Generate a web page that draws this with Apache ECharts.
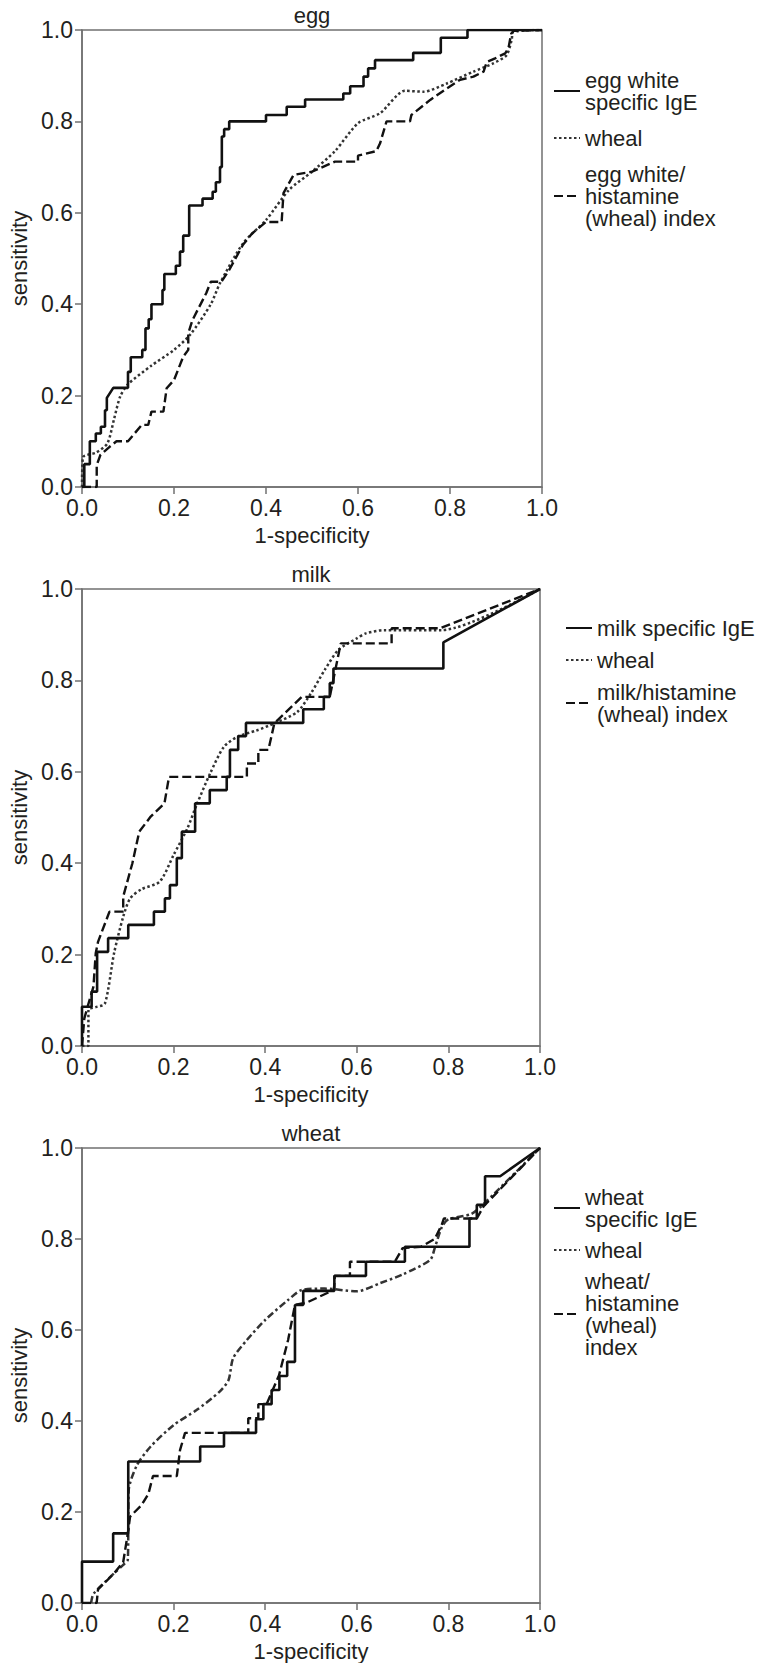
<!DOCTYPE html>
<html>
<head>
<meta charset="utf-8">
<script src="https://cdn.jsdelivr.net/npm/echarts@6/dist/echarts.min.js"></script>
<style>
  html, body { margin: 0; padding: 0; background: #fff; }
  #main { width: 761px; height: 1663px; }
</style>
</head>
<body>
<div id="main"></div>
<script>
// ROC curves: [1-specificity, sensitivity]
var eggIgE = [[0,0],[0.005,0],[0.005,0.05],[0.017,0.05],[0.017,0.10],[0.03,0.10],[0.03,0.117],[0.041,0.117],[0.041,0.132],[0.05,0.132],[0.05,0.168],[0.054,0.168],[0.054,0.195],[0.068,0.217],[0.10,0.217],[0.10,0.252],[0.106,0.252],[0.106,0.284],[0.131,0.284],[0.131,0.30],[0.138,0.30],[0.138,0.347],[0.145,0.347],[0.145,0.367],[0.151,0.367],[0.151,0.40],[0.175,0.40],[0.175,0.431],[0.179,0.431],[0.179,0.466],[0.204,0.466],[0.204,0.484],[0.213,0.484],[0.213,0.515],[0.22,0.515],[0.22,0.55],[0.233,0.55],[0.233,0.616],[0.262,0.616],[0.262,0.631],[0.284,0.631],[0.284,0.646],[0.291,0.646],[0.291,0.667],[0.30,0.667],[0.30,0.70],[0.304,0.70],[0.304,0.767],[0.309,0.767],[0.309,0.783],[0.32,0.783],[0.32,0.80],[0.40,0.80],[0.40,0.814],[0.445,0.814],[0.445,0.832],[0.485,0.832],[0.485,0.848],[0.568,0.848],[0.568,0.861],[0.583,0.861],[0.583,0.877],[0.612,0.877],[0.612,0.898],[0.622,0.898],[0.622,0.916],[0.637,0.916],[0.637,0.934],[0.72,0.934],[0.72,0.95],[0.78,0.95],[0.78,0.983],[0.838,0.983],[0.838,1.0],[1,1]];
var eggWheal = [[0,0],[0.002,0.065],[0.03,0.075],[0.055,0.095],[0.07,0.15],[0.083,0.198],[0.10,0.225],[0.15,0.265],[0.2,0.30],[0.235,0.333],[0.28,0.40],[0.30,0.446],[0.35,0.533],[0.40,0.584],[0.45,0.65],[0.50,0.69],[0.55,0.735],[0.60,0.796],[0.648,0.818],[0.702,0.867],[0.742,0.865],[0.793,0.883],[0.851,0.909],[0.894,0.927],[0.923,0.945],[0.934,0.978],[0.938,0.996],[1,1]];
var eggIndex = [[0,0],[0.032,0],[0.032,0.048],[0.04,0.07],[0.06,0.088],[0.075,0.10],[0.10,0.10],[0.13,0.136],[0.144,0.136],[0.151,0.165],[0.177,0.165],[0.184,0.216],[0.20,0.234],[0.22,0.285],[0.231,0.30],[0.231,0.336],[0.24,0.365],[0.27,0.424],[0.28,0.449],[0.303,0.449],[0.32,0.475],[0.35,0.53],[0.37,0.555],[0.40,0.58],[0.434,0.58],[0.438,0.643],[0.46,0.683],[0.50,0.69],[0.55,0.712],[0.60,0.712],[0.60,0.725],[0.64,0.735],[0.648,0.752],[0.662,0.80],[0.713,0.80],[0.716,0.814],[0.757,0.847],[0.793,0.872],[0.822,0.891],[0.851,0.898],[0.873,0.909],[0.88,0.93],[0.898,0.938],[0.92,0.949],[0.927,0.96],[0.933,0.992],[0.938,0.998],[1,1]];

var milkIgE = [[0,0],[0,0.086],[0.021,0.086],[0.021,0.119],[0.033,0.119],[0.033,0.206],[0.057,0.206],[0.057,0.236],[0.101,0.236],[0.101,0.265],[0.157,0.265],[0.157,0.294],[0.181,0.294],[0.181,0.323],[0.192,0.323],[0.192,0.352],[0.207,0.352],[0.207,0.411],[0.218,0.411],[0.218,0.469],[0.247,0.469],[0.247,0.531],[0.279,0.531],[0.279,0.56],[0.316,0.56],[0.316,0.589],[0.323,0.589],[0.323,0.648],[0.341,0.648],[0.341,0.678],[0.358,0.678],[0.358,0.707],[0.483,0.707],[0.483,0.737],[0.528,0.737],[0.528,0.764],[0.541,0.764],[0.541,0.794],[0.549,0.794],[0.549,0.826],[0.789,0.826],[0.789,0.883],[1,1]];
var milkWheal = [[0,0],[0.014,0],[0.014,0.079],[0.03,0.085],[0.05,0.093],[0.07,0.203],[0.09,0.283],[0.105,0.323],[0.13,0.343],[0.17,0.36],[0.20,0.418],[0.23,0.476],[0.25,0.527],[0.28,0.597],[0.31,0.655],[0.34,0.677],[0.38,0.69],[0.42,0.706],[0.47,0.731],[0.50,0.772],[0.53,0.823],[0.56,0.867],[0.60,0.892],[0.62,0.903],[0.66,0.91],[0.785,0.91],[1,1]];
var milkIndex = [[0,0],[0.005,0.06],[0.012,0.085],[0.025,0.13],[0.03,0.203],[0.035,0.228],[0.06,0.294],[0.09,0.294],[0.09,0.327],[0.11,0.40],[0.125,0.469],[0.15,0.502],[0.18,0.531],[0.19,0.589],[0.36,0.589],[0.36,0.618],[0.385,0.618],[0.385,0.648],[0.407,0.648],[0.42,0.706],[0.48,0.764],[0.541,0.764],[0.565,0.881],[0.676,0.881],[0.676,0.914],[0.782,0.914],[1,1]];

var wheatIgE = [[0,0],[0,0.091],[0.068,0.091],[0.068,0.153],[0.101,0.153],[0.101,0.311],[0.258,0.311],[0.258,0.344],[0.31,0.344],[0.31,0.374],[0.38,0.374],[0.38,0.404],[0.396,0.404],[0.396,0.437],[0.414,0.437],[0.414,0.468],[0.431,0.468],[0.431,0.499],[0.448,0.499],[0.448,0.53],[0.465,0.53],[0.465,0.655],[0.483,0.655],[0.483,0.686],[0.551,0.686],[0.551,0.719],[0.62,0.719],[0.62,0.75],[0.705,0.75],[0.705,0.783],[0.846,0.783],[0.846,0.845],[0.862,0.845],[0.862,0.875],[0.88,0.875],[0.88,0.938],[0.913,0.938],[1,1]];
var wheatWheal = [[0.02,0],[0.025,0.02],[0.07,0.065],[0.09,0.084],[0.10,0.095],[0.102,0.248],[0.12,0.303],[0.15,0.344],[0.20,0.391],[0.25,0.424],[0.30,0.464],[0.32,0.49],[0.33,0.538],[0.36,0.578],[0.40,0.622],[0.45,0.666],[0.48,0.688],[0.53,0.691],[0.60,0.685],[0.651,0.703],[0.70,0.722],[0.76,0.754],[0.771,0.783],[0.786,0.827],[0.80,0.843],[0.85,0.855],[0.88,0.88],[1,1]];
var wheatIndex = [[0,0],[0.032,0],[0.035,0.03],[0.07,0.065],[0.09,0.09],[0.10,0.153],[0.105,0.19],[0.13,0.215],[0.145,0.24],[0.155,0.279],[0.207,0.279],[0.214,0.336],[0.225,0.374],[0.363,0.374],[0.363,0.406],[0.385,0.406],[0.385,0.437],[0.403,0.437],[0.43,0.50],[0.45,0.578],[0.465,0.655],[0.49,0.66],[0.55,0.688],[0.552,0.719],[0.585,0.719],[0.585,0.75],[0.683,0.75],[0.70,0.78],[0.74,0.783],[0.77,0.80],[0.785,0.83],[0.79,0.845],[0.862,0.845],[0.877,0.872],[1,1]];

var panelTitles = ['egg', 'milk', 'wheat'];
var seriesNames = [
  ['egg white specific IgE', 'wheal', 'egg white/histamine (wheal) index'],
  ['milk specific IgE', 'wheal', 'milk/histamine (wheal) index'],
  ['wheat specific IgE', 'wheal', 'wheat/histamine (wheal) index']
];
// how the legend breaks the names into lines
var legendLabels = {
  'egg white specific IgE': 'egg white\nspecific IgE',
  'egg white/histamine (wheal) index': 'egg white/\nhistamine\n(wheal) index',
  'milk specific IgE': 'milk specific IgE',
  'milk/histamine (wheal) index': 'milk/histamine\n(wheal) index',
  'wheat specific IgE': 'wheat\nspecific IgE',
  'wheat/histamine (wheal) index': 'wheat/\nhistamine\n(wheal)\nindex',
  'wheal': 'wheal'
};
var curves = [
  [eggIgE, eggWheal, eggIndex],
  [milkIgE, milkWheal, milkIndex],
  [wheatIgE, wheatWheal, wheatIndex]
];

var FONT = '"Liberation Sans", Arial, Helvetica, sans-serif';
var TXT = '#231f20';
var AXIS = '#707070';

// plot boxes and legend spots, in pixels
var layout = [
  { left: 82, top: 30,   width: 460, height: 457, legendLeft: 553, legendTop: 69,   gap: 14, lh: 22 },
  { left: 82, top: 589,  width: 458, height: 457, legendLeft: 565, legendTop: 617,  gap: 10, lh: 22 },
  { left: 82, top: 1148, width: 458, height: 455, legendLeft: 553, legendTop: 1186, gap: 9,  lh: 22 }
];

var chart = echarts.init(document.getElementById('main'), null, { renderer: 'svg' });

var grids = [], xAxes = [], yAxes = [], series = [], legends = [], graphics = [];

layout.forEach(function (p, i) {
  grids.push({
    left: p.left, top: p.top, width: p.width, height: p.height,
    show: true, borderColor: AXIS, borderWidth: 1.5, backgroundColor: 'transparent'
  });
  xAxes.push({
    type: 'value', gridIndex: i, min: 0, max: 1, interval: 0.2,
    name: '1-specificity', nameLocation: 'middle', nameGap: 37,
    nameTextStyle: { fontFamily: FONT, fontSize: 22, color: TXT },
    axisLine: { show: true, lineStyle: { color: AXIS, width: 1.5 } },
    axisTick: { show: true, length: 7, lineStyle: { color: AXIS, width: 1.5 } },
    axisLabel: {
      margin: 9, fontFamily: FONT, fontSize: 23, color: TXT,
      formatter: function (v) { return v.toFixed(1); }
    },
    splitLine: { show: false }
  });
  yAxes.push({
    type: 'value', gridIndex: i, min: 0, max: 1, interval: 0.2,
    name: 'sensitivity', nameLocation: 'middle', nameGap: 50,
    nameTextStyle: { fontFamily: FONT, fontSize: 22, color: TXT },
    axisLine: { show: true, lineStyle: { color: AXIS, width: 1.5 } },
    axisTick: { show: true, length: 7, lineStyle: { color: AXIS, width: 1.5 } },
    axisLabel: {
      margin: 9, fontFamily: FONT, fontSize: 23, color: TXT,
      formatter: function (v) { return v.toFixed(1); }
    },
    splitLine: { show: false }
  });

  var names = seriesNames[i];
  // solid: specific IgE
  series.push({
    name: names[0], type: 'line', xAxisIndex: i, yAxisIndex: i,
    data: curves[i][0], symbol: 'none', showSymbol: false, z: 5,
    itemStyle: { color: '#111' },
    lineStyle: { color: '#111', width: 2.6, type: 'solid' }
  });
  // dotted (dash-dot in the wheat panel): wheal
  series.push({
    name: names[1], type: 'line', xAxisIndex: i, yAxisIndex: i,
    data: curves[i][1], symbol: 'none', showSymbol: false, smooth: 0.25, z: 3,
    itemStyle: { color: '#333' },
    lineStyle: { color: '#333', width: 2.5, type: i === 2 ? [7, 3, 2.5, 3] : [2.5, 2.5] }
  });
  // dashed: index
  series.push({
    name: names[2], type: 'line', xAxisIndex: i, yAxisIndex: i,
    data: curves[i][2], symbol: 'none', showSymbol: false, z: 4,
    itemStyle: { color: '#111' },
    lineStyle: { color: '#111', width: 2.4, type: [9, 4] }
  });

  legends.push({
    orient: 'vertical', left: p.legendLeft, top: p.legendTop, padding: 0,
    itemGap: p.gap, itemWidth: 26, itemHeight: 14, selectedMode: false,
    itemStyle: { opacity: 0 },
    lineStyle: { width: 2 },
    data: names,
    formatter: function (n) { return legendLabels[n]; },
    textStyle: { fontFamily: FONT, fontSize: 22, lineHeight: p.lh, color: TXT }
  });

  graphics.push({
    type: 'text', x: p.left + p.width / 2, y: p.top - 15,
    style: {
      text: panelTitles[i], fontFamily: FONT, fontSize: 22, fill: TXT,
      textAlign: 'center', textVerticalAlign: 'middle'
    }
  });
});

var option = {
  animation: false,
  backgroundColor: '#fff',
  grid: grids,
  xAxis: xAxes,
  yAxis: yAxes,
  legend: legends,
  series: series,
  graphic: graphics
};

chart.setOption(option);
</script>
</body>
</html>
